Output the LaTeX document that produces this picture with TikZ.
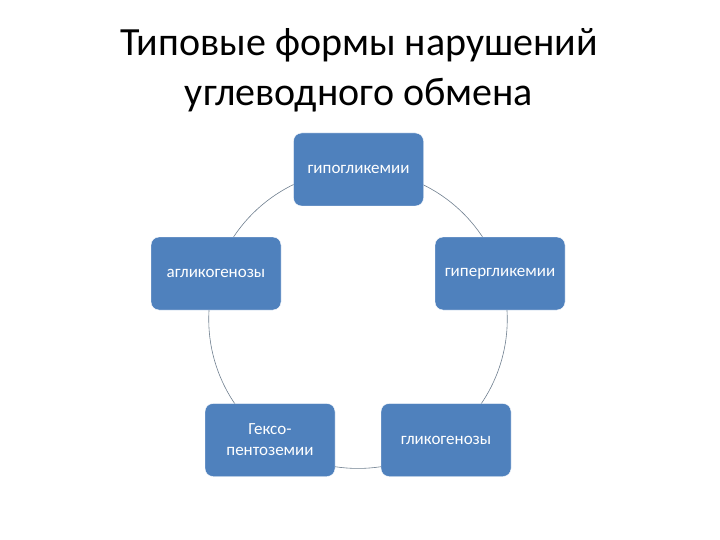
\documentclass[tikz,border=0pt]{standalone}
\usepackage{fontspec}
\setmainfont{Carlito}
\usetikzlibrary{backgrounds}
\definecolor{boxblue}{HTML}{4F81BD}
\definecolor{arcgray}{HTML}{6F7F8F}
\tikzset{
  box/.style={draw=white,fill=boxblue,rounded corners=8pt,minimum width=130pt,
    minimum height=73pt,text=white,align=center,
    font=\fontsize{17}{21}\selectfont},
  conn/.style={draw=arcgray,line width=0.6pt}
}

\begin{document}
\begin{tikzpicture}[x=1pt,y=-1pt]
  \useasboundingbox (0,0) rectangle (720,540);
  \node[align=center,font=\fontsize{40}{50}\selectfont] (title) at (359,70)
    {Типовые формы нарушений\\углеводного обмена};
  \foreach \n/\x/\y/\t in {hypo/358.5/169.5/{гипогликемии},
    hyper/500/273.5/{гипергликемии},glyc/446/440/{гликогенозы},
    hexo/270/440/{Гексо-\\пентоземии},aglyc/216/273.5/{агликогенозы}}
  {
    \node[box] (\n) at (\x,\y) {\t};
  }
  % arcs of the ring, hidden behind the boxes
  \begin{scope}[on background layer]
    \foreach \a/\b in {hypo/hyper,hyper/glyc,glyc/hexo,hexo/aglyc,aglyc/hypo}
    {
      \draw[conn] (\a.center) to[bend left=36,looseness=0.94] (\b.center);
    }
  \end{scope}
\end{tikzpicture}
\end{document}
